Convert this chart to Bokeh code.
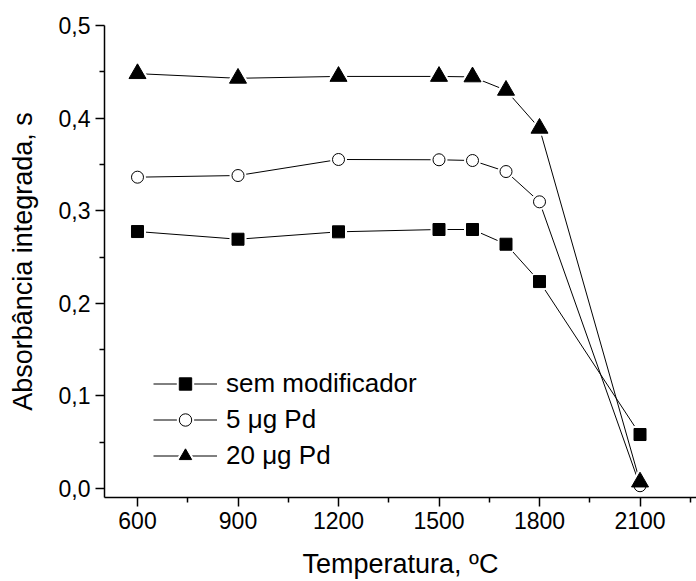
from bokeh.plotting import figure
from bokeh.models import Range1d, FixedTicker, CustomJSTickFormatter, Legend, LegendItem
from bokeh.embed import file_html
from bokeh.resources import INLINE

temperatura = [600, 900, 1200, 1500, 1600, 1700, 1800, 2100]
sem_modificador = [0.2775, 0.2692, 0.2772, 0.2797, 0.2797, 0.2638, 0.2235, 0.0583]
pd_5ug = [0.3362, 0.3380, 0.3553, 0.3550, 0.3542, 0.3423, 0.3096, 0.0030]
pd_20ug = [0.4480, 0.4430, 0.4450, 0.4450, 0.4445, 0.4300, 0.3890, 0.0070]

x_major = [600, 900, 1200, 1500, 1800, 2100]
x_minor = [750, 1050, 1350, 1650, 1950, 2250]
y_major = [0.0, 0.1, 0.2, 0.3, 0.4, 0.5]
y_minor = [0.05, 0.15, 0.25, 0.35, 0.45]

FONT = "Liberation Sans"

p = figure(width=696, height=581, output_backend="svg", toolbar_location=None,
           x_range=Range1d(501.5, 2268.6), y_range=Range1d(-0.0097, 0.5),
           min_border_left=104, min_border_right=0, min_border_top=25, min_border_bottom=84)
p.outline_line_color = None
p.xgrid.visible = False
p.ygrid.visible = False
p.background_fill_color = "white"
p.border_fill_color = "white"

series = [
    ("sem modificador", sem_modificador, "square", 12, "black"),
    ("5 μg Pd", pd_5ug, "circle", 12, "white"),
    ("20 μg Pd", pd_20ug, "triangle", 17, "black"),
]

lines = []
for name, ys, m, s, fc in series:
    lines.append(p.line(temperatura, ys, line_color="black", line_width=1))
masks = []
for name, ys, m, s, fc in series:
    masks.append(p.scatter(temperatura, ys, marker=m, size=s, fill_color="white",
                           line_color="white", line_width=5))
marks = []
for name, ys, m, s, fc in series:
    marks.append(p.scatter(temperatura, ys, marker=m, size=s, fill_color=fc,
                           line_color="black", line_width=1))

items = [LegendItem(label=series[i][0], renderers=[lines[i], masks[i], marks[i]]) for i in range(3)]
legend = Legend(items=items, location=(49, 26), padding=0, margin=0, spacing=5,
                glyph_width=64, glyph_height=31, label_height=31, label_standoff=9,
                border_line_alpha=0, background_fill_alpha=0,
                label_text_font=FONT, label_text_font_size="26px", label_text_color="black")
p.add_layout(legend, "center")

fmt = CustomJSTickFormatter(code="return tick.toFixed(1).replace('.', ',');")

p.xaxis.ticker = FixedTicker(ticks=x_major, minor_ticks=x_minor)
p.yaxis.ticker = FixedTicker(ticks=y_major, minor_ticks=y_minor)
p.yaxis.formatter = fmt
p.xaxis.axis_label = "Temperatura, ºC"
p.yaxis.axis_label = "Absorbância integrada, s"

for ax in (p.xaxis, p.yaxis):
    ax.axis_line_width = 1.5
    ax.axis_line_color = "black"
    ax.major_tick_line_width = 1.5
    ax.minor_tick_line_width = 1.5
    ax.major_tick_line_color = "black"
    ax.minor_tick_line_color = "black"
    ax.major_tick_out = 9
    ax.major_tick_in = 0
    ax.minor_tick_out = 5
    ax.minor_tick_in = 0
    ax.major_label_text_font = FONT
    ax.major_label_text_font_size = "23px"
    ax.major_label_text_color = "black"
    ax.axis_label_text_font = FONT
    ax.axis_label_text_font_size = "27px"
    ax.axis_label_text_font_style = "normal"
    ax.axis_label_text_color = "black"

p.xaxis.major_label_standoff = 5
p.xaxis.axis_label_standoff = 17
p.yaxis.major_label_standoff = 5
p.yaxis.axis_label_standoff = 18

open("out.html", "w").write(file_html(p, INLINE))
